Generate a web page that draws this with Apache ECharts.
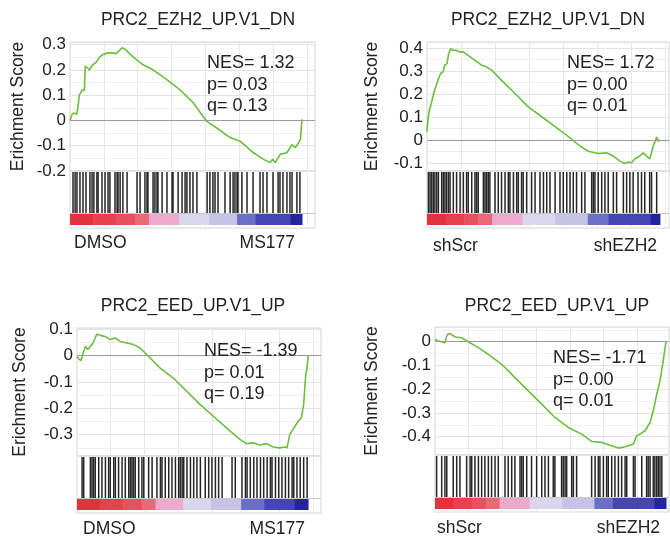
<!DOCTYPE html>
<html>
<head>
<meta charset="utf-8">
<script src="https://cdn.jsdelivr.net/npm/echarts@6/dist/echarts.min.js"></script>
<style>
  html, body { margin: 0; padding: 0; background: #fff; }
  #main { width: 670px; height: 542px; }
</style>
</head>
<body>
<div id="main"></div>
<script>
// running enrichment score, [rank %, ES]
var es1 = [[0,0],[0.9,0.024],[1.9,0.03],[2.9,0.024],[3.5,0.057],[4.0,0.10],[5.2,0.12],[6.2,0.118],[6.6,0.215],[7.2,0.21],[8.4,0.20],[9.8,0.22],[11.3,0.23],[12.7,0.25],[14.1,0.26],[16.3,0.267],[18.5,0.267],[19.9,0.264],[21.4,0.278],[22.5,0.287],[24.0,0.28],[25.7,0.263],[28.6,0.24],[31.5,0.22],[35.8,0.20],[41.6,0.162],[47.3,0.122],[53.1,0.07],[58.9,-0.003],[63.2,-0.03],[69.0,-0.068],[73.3,-0.082],[79.1,-0.128],[83.4,-0.154],[86.3,-0.167],[87.4,-0.154],[88.5,-0.167],[90.6,-0.134],[93.5,-0.128],[95.7,-0.095],[97.1,-0.108],[98.6,-0.088],[99.3,-0.075],[100,0.004]];
var es2 = [[0,0.037],[0.4,0.088],[1.0,0.13],[1.9,0.16],[2.6,0.19],[3.3,0.217],[4.7,0.26],[5.9,0.29],[6.9,0.296],[7.6,0.325],[8.6,0.332],[9.3,0.375],[10.2,0.397],[11.2,0.39],[12.6,0.39],[14.0,0.383],[15.5,0.383],[17.6,0.368],[20.5,0.347],[23.4,0.325],[25.5,0.318],[27.7,0.304],[31.9,0.26],[37.7,0.203],[43.4,0.145],[49.1,0.102],[54.9,0.059],[60.6,0.016],[64.9,-0.02],[69.2,-0.049],[73.5,-0.059],[77.1,-0.056],[80.0,-0.07],[82.8,-0.092],[85.0,-0.102],[86.4,-0.096],[87.8,-0.099],[89.3,-0.082],[91.4,-0.07],[92.8,-0.056],[94.3,-0.07],[95.7,-0.082],[97.1,-0.027],[98.6,0.013],[99.3,-0.006],[100,0.001]];
var es3 = [[0,-0.003],[0.7,-0.011],[1.7,-0.019],[2.9,0.016],[3.7,0.035],[4.6,0.023],[5.8,0.035],[6.9,0.048],[7.9,0.067],[8.6,0.082],[10.1,0.077],[12.2,0.073],[14.4,0.061],[16.5,0.067],[18.7,0.054],[21.6,0.048],[24.5,0.042],[27.3,0.029],[30.2,0.004],[36.0,-0.047],[41.7,-0.085],[47.5,-0.135],[53.2,-0.185],[59.0,-0.23],[64.7,-0.274],[70.5,-0.318],[73.4,-0.334],[76.3,-0.331],[79.1,-0.339],[82.0,-0.334],[84.9,-0.347],[87.8,-0.35],[89.9,-0.347],[90.9,-0.35],[92.1,-0.299],[93.5,-0.28],[95.7,-0.249],[97.1,-0.236],[98.1,-0.185],[99.0,-0.072],[99.6,-0.047],[100,0]];
var es4 = [[0,0.01],[1.4,0.003],[2.9,0],[4.3,-0.004],[5.3,0.031],[6.5,0.034],[8.7,0.02],[11.5,0.017],[14.4,0],[18.8,-0.025],[23.1,-0.053],[28.9,-0.095],[34.6,-0.151],[40.4,-0.207],[46.2,-0.263],[51.9,-0.319],[57.7,-0.361],[63.5,-0.389],[67.8,-0.42],[72.2,-0.424],[76.5,-0.438],[79.4,-0.448],[82.3,-0.442],[85.9,-0.431],[87.3,-0.396],[88.7,-0.389],[90.9,-0.375],[93.1,-0.34],[94.5,-0.291],[96.0,-0.221],[97.4,-0.165],[98.8,-0.081],[99.6,-0.025],[100,0]];

// gene set hit positions, rank %
var hits1 = [1.3,2.2,3.0,4.3,5.6,6.9,8.6,9.5,10.3,11.6,12.1,13.8,15.1,16.4,17.2,19.4,20.3,20.7,21.6,22.8,24.6,28.9,30.2,32.3,33.2,33.6,35.8,36.6,37.5,37.9,39.7,41.8,44.0,44.4,46.6,48.3,49.6,50.4,51.7,53.0,54.7,59.1,60.3,61.6,62.5,63.8,66.8,69.0,70.3,71.1,72.0,72.4,74.1,76.3,78.9,81.9,83.2,84.9,87.5,89.7,90.5,91.8,93.5,94.8,95.7,97.8,99.1];
var hits2 = [0.6,1.3,2.0,2.7,3.4,4.2,4.9,6.3,7.0,7.7,8.4,9.2,9.9,11.3,12.7,14.2,15.6,17.0,17.7,19.2,20.6,21.3,22.0,24.2,24.9,25.6,26.3,27.0,29.2,30.6,32.0,33.5,34.9,35.6,37.1,38.5,39.2,40.6,41.3,42.8,44.9,46.4,48.5,50.0,51.4,52.8,55.0,57.1,58.5,60.0,61.4,62.8,64.2,66.4,67.8,70.7,71.4,72.1,73.5,75.0,76.4,77.8,80.0,81.4,84.3,85.7,87.1,88.5,90.6,92.1,93.5,95.6,96.4,98.6];
var hits3 = [2.2,2.9,5.8,6.5,7.2,7.9,9.4,10.8,12.3,13.7,14.4,15.9,16.6,18.0,19.5,20.9,22.4,23.1,23.8,24.5,25.2,26.7,28.1,28.9,31.0,32.5,34.6,36.1,36.8,38.2,39.7,41.1,42.6,44.0,44.7,45.5,46.2,47.6,49.1,50.5,51.9,53.4,55.5,57.0,58.4,59.9,61.3,62.8,67.1,68.5,71.4,72.9,73.6,75.0,76.5,77.9,79.4,80.8,82.3,83.7,84.4,85.9,87.3,88.7,90.2,91.6,93.1,93.8,95.2,96.6,98.1,99.6];
var hits4 = [0.7,2.9,4.3,5.1,7.9,9.4,10.8,13.7,15.2,15.9,17.3,18.8,20.2,21.6,23.1,24.5,26.0,27.4,30.3,31.7,33.2,34.6,36.8,37.5,38.2,39.7,41.8,44.0,46.2,47.6,49.1,51.2,51.9,54.8,55.5,56.3,57.0,59.2,59.9,61.3,67.8,69.3,70.7,71.4,72.9,74.3,75.0,76.5,77.9,79.4,80.8,82.3,83.0,85.9,86.6,89.5,91.6,92.3,93.1,94.5,95.2,96.0,96.7,97.4,98.2];

// ranked list colour bar: band edges in rank %
var bands1 = [0, 10, 20, 28, 34, 47, 60, 72, 80, 95, 100];
var bands2 = [0, 8, 16, 22, 28, 41, 55, 69, 78, 96, 100];
var bands3 = [0, 10, 20, 28, 34, 46, 58, 71, 81, 94, 100];
var bands4 = [0, 8, 16, 22, 28, 41, 55, 69, 77, 95, 100];
var bandColors = ['#e0343d', '#e3434c', '#e5525d', '#e86a77', '#eeaacd', '#d9d6ee', '#c6c3e6', '#6b6fc5', '#4546b3', '#23259c'];

var titles = ['PRC2_EZH2_UP.V1_DN', 'PRC2_EZH2_UP.V1_DN', 'PRC2_EED_UP.V1_UP', 'PRC2_EED_UP.V1_UP'];
var stats = [
  ['NES= 1.32', 'p= 0.03', 'q= 0.13'],
  ['NES= 1.72', 'p= 0.00', 'q= 0.01'],
  ['NES= -1.39', 'p= 0.01', 'q= 0.19'],
  ['NES= -1.71', 'p= 0.00', 'q= 0.01']
];
var groups = [['DMSO', 'MS177'], ['shScr', 'shEZH2'], ['DMSO', 'MS177'], ['shScr', 'shEZH2']];

var FONT = '"Liberation Sans", Arial, sans-serif';
var GREEN = '#6dbd3f';
var BAR_TOP = 0.263, BAR_BOT = 0.053;

// layout per panel (pixels)
var panels = [
  { es: es1, hits: hits1, bands: bands1, left: 70, top: 42, width: 245, height: 129, xMax: 105.6, yMin: -0.2, yMax: 0.31, showMin: true,
    titleX: 198, titleY: 20, nameX: 18, statX: 207, statY: 63, lblY: 243, lblL: 74, lblR: 295 },
  { es: es2, hits: hits2, bands: bands2, left: 427, top: 42, width: 242, height: 129, xMax: 103.9, yMin: -0.135, yMax: 0.426, showMin: false,
    titleX: 548, titleY: 20, nameX: 372, statX: 567, statY: 63, lblY: 246, lblL: 433, lblR: 657 },
  { es: es3, hits: hits3, bands: bands3, left: 77, top: 328, width: 244, height: 128, xMax: 105.6, yMin: -0.381, yMax: 0.105, showMin: false,
    titleX: 193, titleY: 306, nameX: 20, statX: 204, statY: 351, lblY: 529, lblL: 83, lblR: 305 },
  { es: es4, hits: hits4, bands: bands4, left: 435, top: 327, width: 234, height: 128, xMax: 101.3, yMin: -0.477, yMax: 0.062, showMin: false,
    titleX: 557, titleY: 306, nameX: 372, statX: 553, statY: 358, lblY: 528, lblL: 437, lblR: 660 }
];

var grid = [], xAxis = [], yAxis = [], series = [], graphic = [];

function renderHit(params, api) {
  var p1 = api.coord([api.value(0), 1]);
  var p2 = api.coord([api.value(0), BAR_TOP]);
  return {
    type: 'line',
    shape: { x1: p1[0], y1: p1[1] + 1, x2: p1[0], y2: p2[1] },
    style: { stroke: '#141414', lineWidth: 1.5, opacity: 0.92 }
  };
}

function renderBand(params, api) {
  var a = api.coord([api.value(0), BAR_TOP]);
  var b = api.coord([api.value(1), BAR_BOT]);
  return {
    type: 'rect',
    shape: { x: a[0], y: a[1], width: b[0] - a[0] + 0.5, height: b[1] - a[1] },
    style: { fill: bandColors[api.value(2)] }
  };
}

panels.forEach(function (p, i) {
  var g1 = i * 2, g2 = i * 2 + 1;
  grid.push({ left: p.left, top: p.top, width: p.width, height: p.height, show: true, borderColor: '#d4d4d4', borderWidth: 1, backgroundColor: '#fff' });
  grid.push({ left: p.left, top: p.top + p.height, width: p.width, height: 57, show: true, borderColor: '#d4d4d4', borderWidth: 1, backgroundColor: '#fff' });

  xAxis.push({ gridIndex: g1, type: 'value', min: 0, max: p.xMax, interval: 14.6,
    axisLine: { show: false }, axisTick: { show: false }, axisLabel: { show: false },
    splitLine: { show: true, lineStyle: { color: '#e8e8e8', width: 1 } } });
  xAxis.push({ gridIndex: g2, type: 'value', min: 0, max: p.xMax, interval: 14.6,
    axisLine: { show: false }, axisTick: { show: false }, axisLabel: { show: false },
    splitLine: { show: true, lineStyle: { color: '#ececec', width: 1 } } });

  yAxis.push({ gridIndex: g1, type: 'value', min: p.yMin, max: p.yMax, splitNumber: 5,
    axisLine: { show: false }, axisTick: { show: false },
    axisLabel: { color: '#222', fontFamily: FONT, fontSize: 17, margin: 4, showMaxLabel: false, showMinLabel: p.showMin },
    splitLine: { show: true, lineStyle: { color: '#e4e4e4', width: 1 } },
    minorTick: { show: false, splitNumber: 2 },
    minorSplitLine: { show: true, lineStyle: { color: '#efefef', width: 1 } } });
  yAxis.push({ gridIndex: g2, type: 'value', min: 0, max: 1,
    axisLine: { show: false }, axisTick: { show: false }, axisLabel: { show: false }, splitLine: { show: false } });

  series.push({
    type: 'line', xAxisIndex: g1, yAxisIndex: g1, data: p.es, showSymbol: false, symbol: 'none',
    lineStyle: { color: GREEN, width: 1.6 }, animation: false, z: 3,
    markLine: { silent: true, symbol: 'none', label: { show: false },
      lineStyle: { color: '#9a9a9a', width: 1, type: 'solid' }, data: [{ yAxis: 0 }] }
  });
  series.push({
    type: 'custom', xAxisIndex: g2, yAxisIndex: g2, renderItem: renderBand, animation: false,
    data: p.bands.slice(0, -1).map(function (b, k) { return [b, p.bands[k + 1], k]; }),
    encode: { x: [0, 1] },
    markLine: { silent: true, symbol: 'none', label: { show: false },
      lineStyle: { color: '#c8c8c8', width: 1, type: 'solid' }, data: [{ yAxis: BAR_TOP }] }
  });
  series.push({
    type: 'custom', xAxisIndex: g2, yAxisIndex: g2, renderItem: renderHit, animation: false, z: 4,
    data: p.hits.map(function (h) { return [h, 0.5]; }), encode: { x: 0, y: 1 }
  });

  var txt = function (text, x, y, align, size, rot) {
    graphic.push({ type: 'text', x: x, y: y, rotation: rot || 0, silent: true, z: 100,
      style: { text: text, fill: '#222', font: (size || 17.5) + 'px ' + FONT, align: align, verticalAlign: 'middle' } });
  };
  txt(titles[i], p.titleX, p.titleY, 'center');
  txt('Erichment Score', p.nameX, p.top + p.height / 2, 'center', 17.5, Math.PI / 2);
  stats[i].forEach(function (s, k) { txt(s, p.statX, p.statY + k * 21.7, 'left', 18); });
  txt(groups[i][0], p.lblL, p.lblY, 'left');
  txt(groups[i][1], p.lblR, p.lblY, 'right');
});

var chart = echarts.init(document.getElementById('main'));
chart.setOption({
  animation: false,
  backgroundColor: '#fff',
  grid: grid,
  xAxis: xAxis,
  yAxis: yAxis,
  series: series,
  graphic: graphic
});
</script>
</body>
</html>
